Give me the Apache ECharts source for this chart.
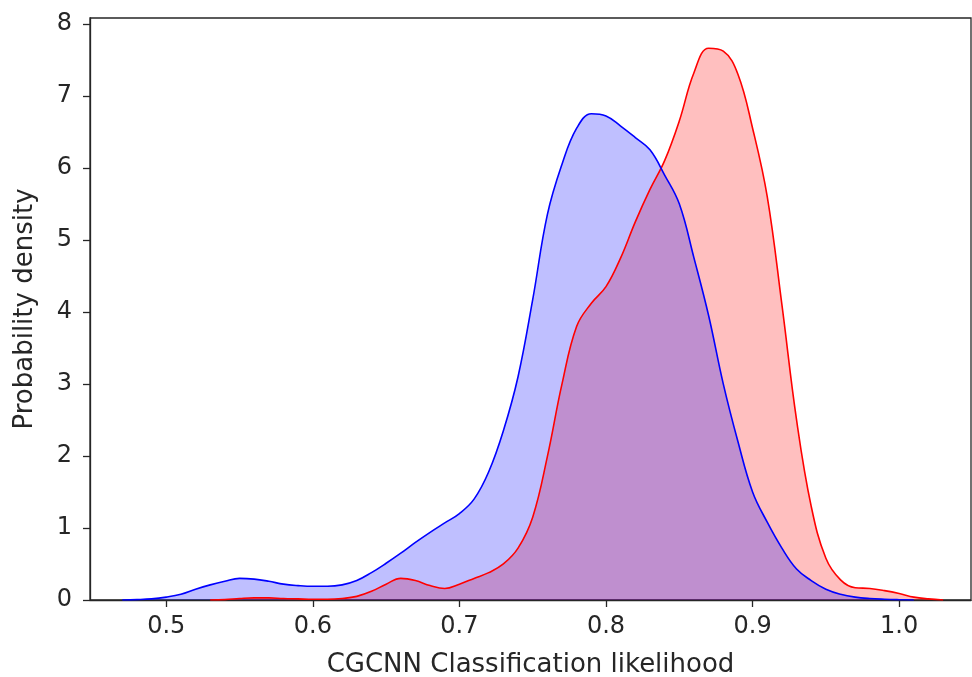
<!DOCTYPE html>
<html>
<head>
<meta charset="utf-8">
<script src="https://cdn.jsdelivr.net/npm/echarts@6/dist/echarts.min.js"></script>
<style>
  html, body { margin: 0; padding: 0; background: #fff; }
  #chart { width: 972px; height: 677px; }
</style>
</head>
<body>
<div id="chart"></div>
<script>
const blueX = [0.47, 0.48, 0.49, 0.50, 0.51, 0.52, 0.53, 0.54, 0.55, 0.56, 0.57, 0.58, 0.59, 0.60,
  0.61, 0.62, 0.63, 0.64, 0.65, 0.66, 0.67, 0.68, 0.69, 0.70, 0.71, 0.72, 0.73, 0.74, 0.75, 0.76,
  0.77, 0.78, 0.79, 0.80, 0.81, 0.82, 0.83, 0.84, 0.85, 0.86, 0.87, 0.88, 0.89, 0.90, 0.91, 0.92,
  0.93, 0.94, 0.95, 0.96, 0.97, 0.98, 0.99, 1.00, 1.01];
const blueY = [0, 0.005, 0.015, 0.04, 0.08, 0.15, 0.21, 0.26, 0.30, 0.29, 0.26, 0.22, 0.20, 0.19,
  0.19, 0.21, 0.27, 0.38, 0.51, 0.65, 0.80, 0.94, 1.07, 1.20, 1.40, 1.78, 2.35, 3.10, 4.17, 5.35,
  6.05, 6.55, 6.75, 6.72, 6.58, 6.42, 6.25, 5.90, 5.50, 4.75, 3.95, 3.00, 2.20, 1.50, 1.08, 0.72,
  0.43, 0.27, 0.15, 0.08, 0.04, 0.02, 0.01, 0.004, 0];

const redX = [0.53, 0.54, 0.55, 0.56, 0.57, 0.58, 0.59, 0.60, 0.61, 0.62, 0.63, 0.64, 0.65, 0.66,
  0.67, 0.68, 0.69, 0.70, 0.71, 0.72, 0.73, 0.74, 0.75, 0.76, 0.77, 0.78, 0.79, 0.80, 0.81, 0.82,
  0.83, 0.84, 0.85, 0.86, 0.87, 0.88, 0.89, 0.90, 0.91, 0.92, 0.93, 0.94, 0.95, 0.96, 0.97, 0.98,
  0.99, 1.00, 1.01, 1.02, 1.03];
const redY = [0, 0.005, 0.02, 0.03, 0.03, 0.02, 0.015, 0.01, 0.01, 0.02, 0.05, 0.12, 0.22, 0.30,
  0.27, 0.20, 0.16, 0.22, 0.30, 0.38, 0.50, 0.72, 1.15, 1.99, 3.00, 3.80, 4.12, 4.35, 4.75, 5.25,
  5.70, 6.10, 6.65, 7.32, 7.66, 7.62, 7.30, 6.55, 5.60, 4.10, 2.50, 1.30, 0.58, 0.28, 0.17, 0.16,
  0.13, 0.09, 0.04, 0.015, 0];

const xTicks = [0.5, 0.6, 0.7, 0.8, 0.9, 1.0];
const yTicks = [0, 1, 2, 3, 4, 5, 6, 7, 8];

const pairs = (xs, ys) => xs.map((x, i) => [x, ys[i]]);

const chart = echarts.init(document.getElementById('chart'));

const axisText = {
  color: '#262626',
  fontFamily: 'DejaVu Sans',
  fontSize: 24
};
const nameText = { color: '#262626', fontFamily: 'DejaVu Sans', fontSize: 26 };
const lineCol = { color: '#262626', width: 1.3 };

chart.setOption({
  animation: false,
  grid: {
    left: 90,
    right: 1,
    top: 18,
    bottom: 77,
    outerBoundsMode: 'none',
    containLabel: false,
    show: true,
    borderColor: '#262626',
    borderWidth: 1.3,
    backgroundColor: 'transparent'
  },
  xAxis: {
    type: 'value',
    min: 0.448,
    max: 1.049,
    name: 'CGCNN Classification likelihood',
    nameLocation: 'middle',
    nameGap: 52,
    nameTextStyle: nameText,
    axisLine: { show: true, onZero: false, lineStyle: lineCol },
    axisTick: { show: true, length: 7, customValues: xTicks, lineStyle: lineCol },
    axisLabel: Object.assign({ margin: 15, customValues: xTicks, formatter: v => v.toFixed(1) }, axisText),
    splitLine: { show: false }
  },
  yAxis: {
    type: 'value',
    min: 0,
    max: 8.08,
    name: 'Probability density',
    nameLocation: 'middle',
    nameGap: 52,
    nameTextStyle: nameText,
    axisLine: { show: true, lineStyle: lineCol },
    axisTick: { show: true, length: 7, customValues: yTicks, lineStyle: lineCol },
    axisLabel: Object.assign({ margin: 18, customValues: yTicks }, axisText),
    splitLine: { show: false }
  },
  series: [
    {
      name: 'red',
      type: 'line',
      data: pairs(redX, redY),
      smooth: 0.4,
      symbol: 'none',
      lineStyle: { color: '#ff0000', width: 1.6 },
      areaStyle: { color: 'rgba(255,0,0,0.25)', opacity: 1 }
    },
    {
      name: 'blue',
      type: 'line',
      data: pairs(blueX, blueY),
      smooth: 0.4,
      symbol: 'none',
      lineStyle: { color: '#0000ff', width: 1.6 },
      areaStyle: { color: 'rgba(0,0,255,0.25)', opacity: 1 }
    }
  ]
});
</script>
</body>
</html>
